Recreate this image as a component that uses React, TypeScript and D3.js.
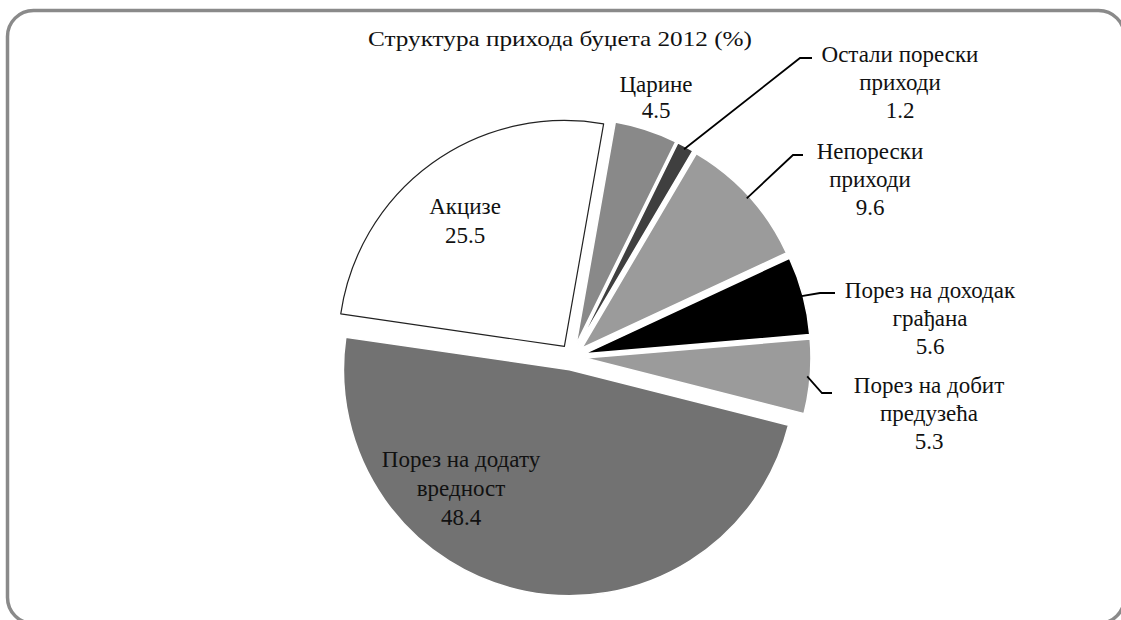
import * as d3 from "d3";

// budget revenue structure 2012 (%), clockwise starting near 12 o'clock
const categories = [
  "Царине",
  "Остали порески приходи",
  "Непорески приходи",
  "Порез на доходак грађана",
  "Порез на добит предузећа",
  "Порез на додату вредност",
  "Акцизе",
];
const values = [4.5, 1.2, 9.6, 5.6, 5.3, 48.4, 25.5];
const labelLines = [
  ["Царине"],
  ["Остали порески", "приходи"],
  ["Непорески", "приходи"],
  ["Порез на доходак", "грађана"],
  ["Порез на добит", "предузећа"],
  ["Порез на додату", "вредност"],
  ["Акцизе"],
];
const fills = ["#898989", "#3f3f3f", "#9b9b9b", "#000000", "#9b9b9b", "#727272", "#ffffff"];
const title = "Структура прихода буџета 2012 (%)";

// label layout: text centre x, first baseline y, line step, leader (elbow x, y, end x) or null
const labelPos: [number, number, number, number[] | null][] = [
  [656, 92, 26, null],
  [900, 62, 28, [800, 58, 812]],
  [870, 159, 28, [793, 155, 803]],
  [930, 298, 28, [820, 293, 835]],
  [929, 393, 28, [822, 393, 832]],
  [461, 467, 29, null],
  [465, 214, 29, null],
];

const W = 1121;
const H = 620;
const cx = 572;
const cy = 357;
const radius = 226;
const explode = 13;
const rotation = (10 * Math.PI) / 180;
const font = "'Liberation Serif', 'Times New Roman', serif";

export default function App() {
  const pie = d3
    .pie<number>()
    .sort(null)
    .value((d) => d)
    .startAngle(rotation)
    .endAngle(rotation + 2 * Math.PI);
  const arcs = pie(values);
  const arcGen = d3.arc<d3.PieArcDatum<number>>().innerRadius(0).outerRadius(radius);

  return (
    <svg
      width={W}
      height={H}
      style={{ position: "absolute", left: 0, top: 0, display: "block", background: "#fff" }}
      fontFamily={font}
    >
      <rect x={7.5} y={10.5} width={1117} height={613} rx={26} ry={26} fill="#fff" stroke="#8a8a8a" strokeWidth={3.5} />
      <text x={368} y={46} fontSize={22} fill="#111" textLength={384} lengthAdjust="spacingAndGlyphs">
        {title}
      </text>
      <g transform={`translate(${cx},${cy})`}>
        {arcs.map((a, i) => {
          const mid = (a.startAngle + a.endAngle) / 2;
          const dx = explode * Math.sin(mid);
          const dy = -explode * Math.cos(mid);
          const white = fills[i] === "#ffffff";
          return (
            <path
              key={categories[i]}
              d={arcGen(a) || ""}
              transform={`translate(${dx},${dy})`}
              fill={fills[i]}
              stroke={white ? "#222" : "#fff"}
              strokeWidth={white ? 1.2 : 1.5}
              strokeLinejoin="round"
            />
          );
        })}
      </g>
      {arcs.map((a, i) => {
        const [tx, ty, step, leader] = labelPos[i];
        const lines = [...labelLines[i], String(values[i])];
        const mid = (a.startAngle + a.endAngle) / 2;
        const r0 = radius + explode - 3;
        const sx = cx + r0 * Math.sin(mid);
        const sy = cy - r0 * Math.cos(mid);
        return (
          <g key={"l" + i}>
            {leader && (
              <polyline
                points={`${sx},${sy} ${leader[0]},${leader[1]} ${leader[2]},${leader[1]}`}
                fill="none"
                stroke="#000"
                strokeWidth={1.8}
              />
            )}
            <text textAnchor="middle" fontSize={23} fill="#111">
              {lines.map((ln, j) => (
                <tspan key={j} x={tx} y={ty + j * step}>
                  {ln}
                </tspan>
              ))}
            </text>
          </g>
        );
      })}
    </svg>
  );
}
